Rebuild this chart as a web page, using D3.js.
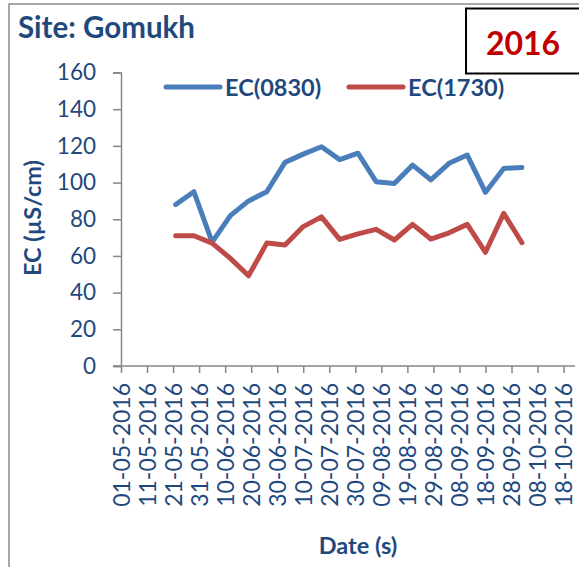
<!DOCTYPE html>
<html>
<head>
<meta charset="utf-8">
<script src="https://cdn.jsdelivr.net/npm/d3@7"></script>
<style>
  body { margin: 0; background: #fff; }
  text { font-family: Lato, "Open Sans", sans-serif; fill: #1F497D; }
</style>
</head>
<body>
<svg id="chart" width="579" height="567"></svg>
<script>
// sample dates (weekly) and EC readings
let sampleDates = ["22-05-2016", "29-05-2016", "05-06-2016", "12-06-2016", "19-06-2016", "26-06-2016", "03-07-2016",
  "10-07-2016", "17-07-2016", "24-07-2016", "31-07-2016", "07-08-2016", "14-08-2016", "21-08-2016",
  "28-08-2016", "04-09-2016", "11-09-2016", "18-09-2016", "25-09-2016", "02-10-2016"];
let ec0830 = [88, 95, 67.5, 82, 90, 95, 111, 115.5, 119.5, 112.5, 116, 100.5, 99.5, 109.5, 101.5, 110.5, 115, 94.7, 107.7, 108.2];
let ec1730 = [71, 71, 67, 58.7, 49.2, 67, 66, 76, 81.3, 69, 72, 74.5, 68.7, 77.2, 69.2, 72.6, 77.2, 62, 83.2, 67.2];
let tickDates = ["01-05-2016", "11-05-2016", "21-05-2016", "31-05-2016", "10-06-2016", "20-06-2016", "30-06-2016",
  "10-07-2016", "20-07-2016", "30-07-2016", "09-08-2016", "19-08-2016", "29-08-2016", "08-09-2016",
  "18-09-2016", "28-09-2016", "08-10-2016", "18-10-2016"];
let yTicks = [0, 20, 40, 60, 80, 100, 120, 140, 160];

let parseDate = d3.timeParse("%d-%m-%Y");
let fmtDate = d3.timeFormat("%d-%m-%Y");

let series = [
  {name: "EC(0830)", color: "#4A7EBB", values: ec0830},
  {name: "EC(1730)", color: "#BE4B48", values: ec1730}
];

let svg = d3.select("#chart");

// outer chart frame
svg.append("rect").attr("x", 9).attr("y", 4).attr("width", 600).attr("height", 600)
  .style("fill", "none").style("stroke", "#8C8C8C").style("stroke-width", 1.5);

let x = d3.scaleTime()
  .domain([parseDate("01-05-2016"), parseDate("22-10-2016")])
  .range([121, 574]);
let y = d3.scaleLinear().domain([0, 160]).range([366, 72.5]);

// y axis
let yAxis = svg.append("g").attr("transform", "translate(121,0)")
  .call(d3.axisLeft(y).tickValues(yTicks).tickSize(8).tickPadding(17));
yAxis.selectAll("path, line").style("stroke", "#868686").style("stroke-width", 1.5);
yAxis.selectAll("text").style("font-size", "22.5px").style("font-family", "Lato").style("fill", "#1F497D");

// x axis
let xAxis = svg.append("g").attr("transform", "translate(0,366)")
  .call(d3.axisBottom(x).tickValues(tickDates.map(parseDate)).tickFormat(fmtDate).tickSize(7).tickSizeOuter(0));
xAxis.select("path").attr("d", "M113,0H575");
xAxis.selectAll("path, line").style("stroke", "#868686").style("stroke-width", 1.5);
xAxis.selectAll("text")
  .attr("transform", "rotate(-90)")
  .attr("x", -17).attr("y", 0).attr("dy", "0.36em")
  .style("text-anchor", "end")
  .style("font-size", "23px").style("font-family", "Lato").style("fill", "#1F497D");

// lines
let line = d3.line()
  .x((d, i) => x(parseDate(sampleDates[i])))
  .y(d => y(d));

series.forEach(s => {
  svg.append("path").datum(s.values)
    .attr("d", line)
    .style("fill", "none").style("stroke", s.color).style("stroke-width", 5)
    .style("stroke-linejoin", "round").style("stroke-linecap", "round");
});

// legend
let legendX = [166, 349];
series.forEach((s, i) => {
  svg.append("line").attr("x1", legendX[i]).attr("x2", legendX[i] + 54).attr("y1", 87).attr("y2", 87)
    .style("stroke", s.color).style("stroke-width", 5).style("stroke-linecap", "round");
  svg.append("text").attr("x", legendX[i] + 59).attr("y", 96).text(s.name)
    .style("font-size", "23.5px").style("font-weight", "bold");
});

// titles
svg.append("text").attr("x", 18).attr("y", 38).text("Site: Gomukh")
  .style("font-size", "29.5px").style("font-weight", "bold");
svg.append("text").attr("transform", "translate(41,218) rotate(-90)").attr("text-anchor", "middle")
  .text("EC (µS/cm)").style("font-size", "23.5px").style("font-weight", "bold");
svg.append("text").attr("x", 358).attr("y", 554).attr("text-anchor", "middle")
  .text("Date (s)").style("font-size", "23.5px").style("font-weight", "bold");

// year box
svg.append("rect").attr("x", 466).attr("y", 8.5).attr("width", 130).attr("height", 65)
  .style("fill", "#fff").style("stroke", "#000").style("stroke-width", 2);
svg.append("text").attr("x", 523).attr("y", 55).attr("text-anchor", "middle").text("2016")
  .style("font-size", "32px").style("font-weight", "bold").style("fill", "#C00000");
</script>
</body>
</html>
